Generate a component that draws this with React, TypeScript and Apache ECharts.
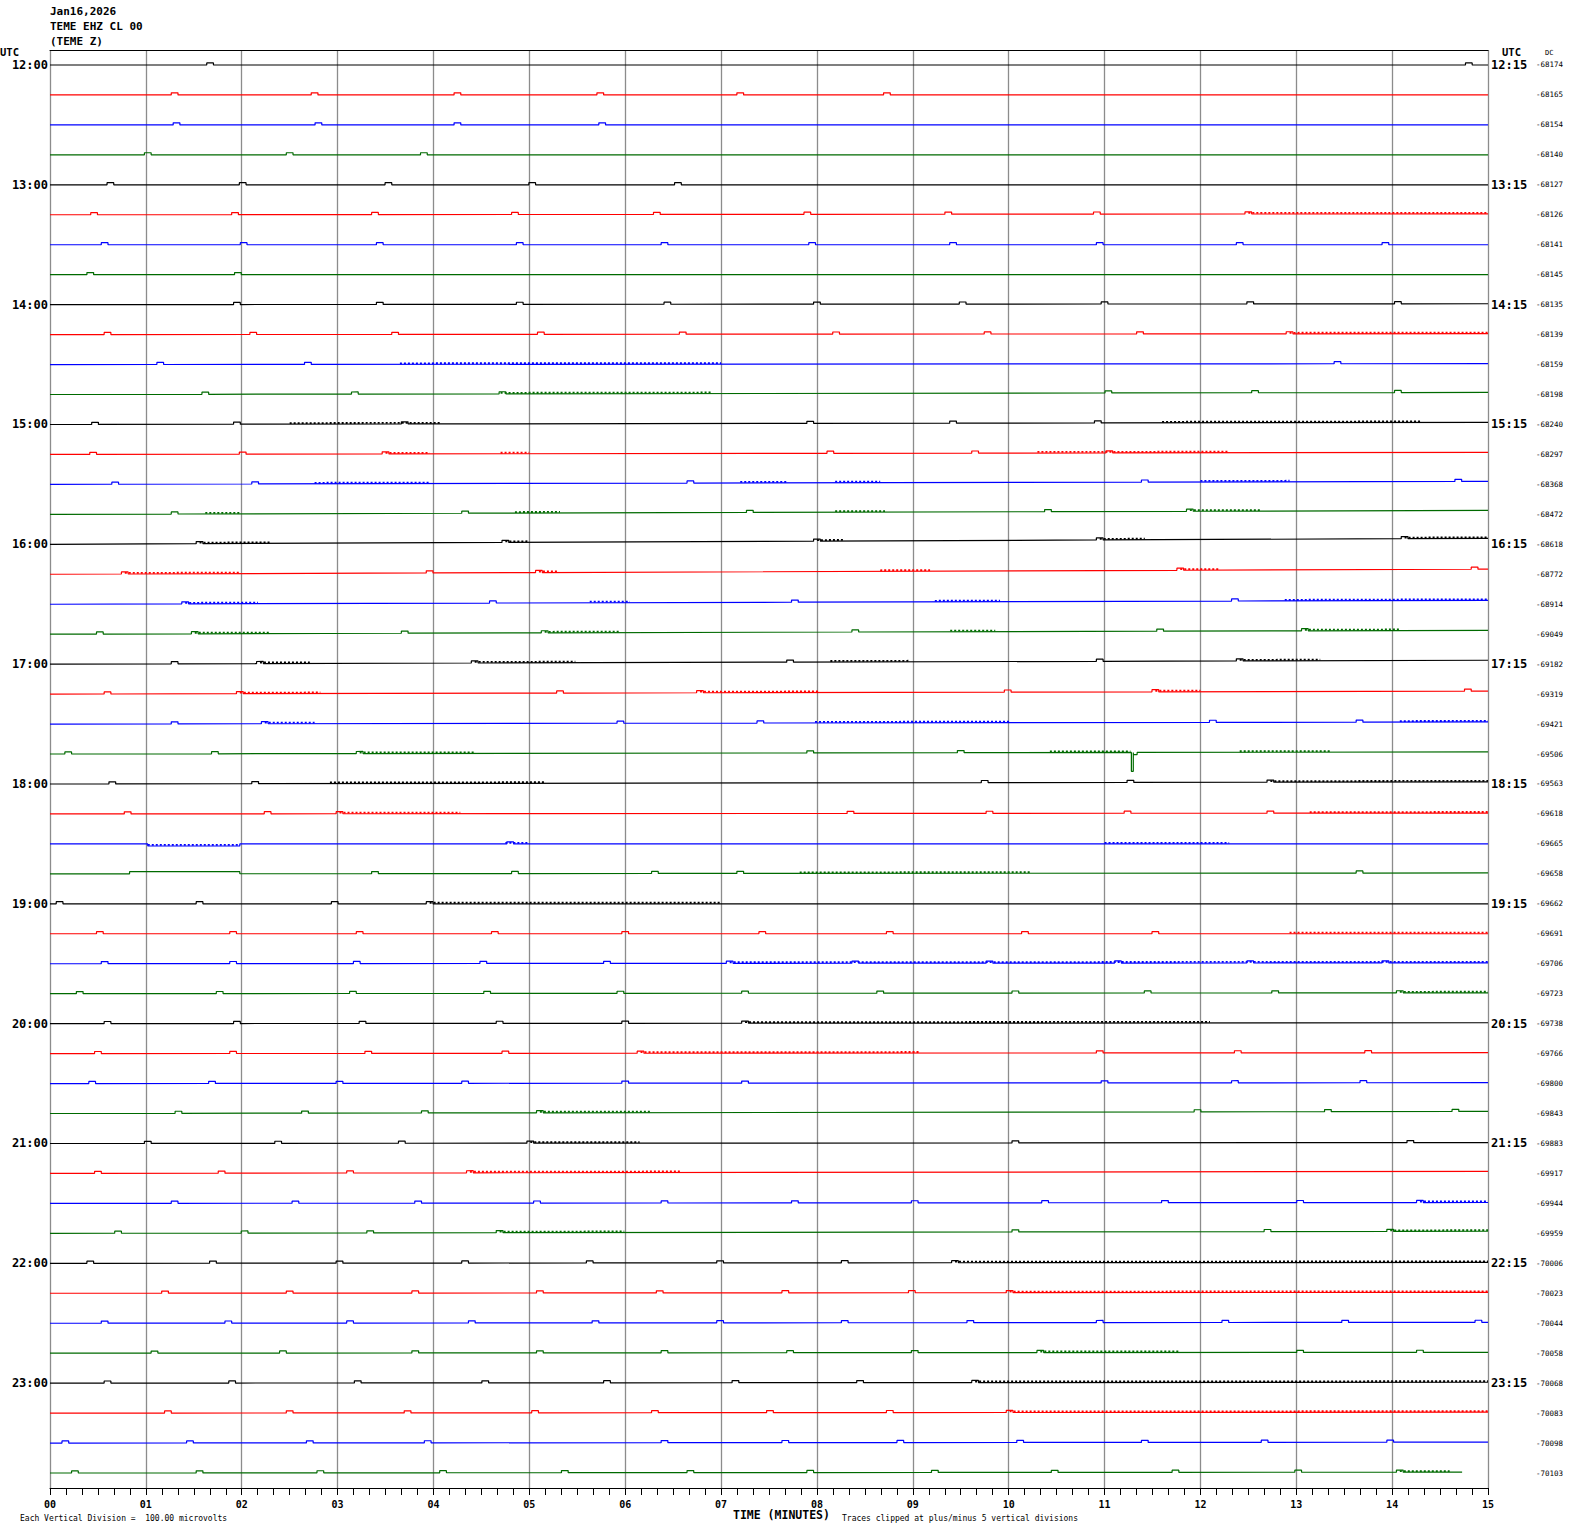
import React, { useEffect, useRef } from "react";
import * as echarts from "echarts";

const headerLines = ["Jan16,2026", "TEME EHZ CL 00", "(TEME Z)"];
const hourLabels = ["12:00", "13:00", "14:00", "15:00", "16:00", "17:00", "18:00", "19:00", "20:00", "21:00", "22:00", "23:00"];
const quarterLabels = ["12:15", "13:15", "14:15", "15:15", "16:15", "17:15", "18:15", "19:15", "20:15", "21:15", "22:15", "23:15"];
const dcValues = [
  -68174, -68165, -68154, -68140, -68127, -68126, -68141, -68145, -68135, -68139, -68159, -68198,
  -68240, -68297, -68368, -68472, -68618, -68772, -68914, -69049, -69182, -69319, -69421, -69506,
  -69563, -69618, -69665, -69658, -69662, -69691, -69706, -69723, -69738, -69766, -69800, -69843,
  -69883, -69917, -69944, -69959, -70006, -70023, -70044, -70058, -70068, -70083, -70098, -70103,
];
const traceColors = ["#000000", "#ff0000", "#0000ff", "#006a00"];

// baseline drift over the 15 minutes, in trace rows (negative = upward)
const driftRows = [
  0, 0, 0, 0, 0, -0.03, 0, 0, -0.03, -0.03, -0.03, -0.07,
  -0.07, -0.07, -0.1, -0.13, -0.2, -0.17, -0.13, -0.13, -0.13, -0.1, -0.07, -0.07,
  -0.07, -0.03, 0, -0.03, 0, 0, -0.03, -0.03, -0.03, -0.03, -0.03, -0.07,
  -0.03, -0.07, -0.03, -0.07, -0.03, -0.03, -0.03, -0.03, -0.03, -0.03, -0.03, -0.03,
];

// small blips (minute positions) on each trace
const blips: number[][] = [
  [1.67, 14.8],
  [1.3, 2.76, 4.25, 5.74, 7.2, 8.73],
  [1.32, 2.8, 4.25, 5.76],
  [1.02, 2.5, 3.9],
  [0.63, 2.01, 3.53, 5.03, 6.55],
  [0.46, 1.93, 3.39, 4.85, 6.33, 7.9, 9.37, 10.92, 12.5],
  [0.57, 2.02, 3.44, 4.9, 6.41, 7.95, 9.42, 10.95, 12.41, 13.93],
  [0.42, 1.96],
  [1.95, 3.44, 4.9, 6.44, 8.0, 9.52, 11.0, 12.52, 14.06],
  [0.6, 2.12, 3.6, 5.12, 6.6, 8.2, 9.78, 11.37, 12.93],
  [1.15, 2.69, 13.43],
  [1.62, 3.18, 4.72, 11.04, 12.57, 14.06],
  [0.47, 1.95, 3.7, 7.93, 9.42, 10.93],
  [0.45, 2.01, 3.5, 8.14, 9.65, 11.05],
  [0.68, 2.14, 6.68, 11.42, 14.69],
  [1.3, 4.33, 7.3, 10.41, 11.89],
  [1.56, 4.75, 8.0, 10.95, 14.13],
  [0.78, 3.96, 5.1, 11.79, 14.86],
  [1.41, 4.62, 7.77, 12.36],
  [0.52, 1.51, 3.7, 5.16, 8.4, 11.58, 13.09],
  [1.3, 2.19, 4.43, 7.72, 10.95, 12.41],
  [0.6, 1.98, 5.32, 6.78, 9.99, 11.53, 14.79],
  [1.3, 2.24, 5.95, 7.41, 12.13, 13.66],
  [0.19, 1.72, 3.23, 7.93, 9.5],
  [0.65, 2.14, 9.75, 11.27, 12.73],
  [0.81, 2.27, 3.02, 8.35, 9.8, 11.24, 12.73],
  [4.8],
  [3.39, 4.85, 6.31, 7.2, 13.66],
  [0.1, 1.56, 2.97, 3.96],
  [0.52, 1.91, 3.23, 4.64, 6.0, 7.43, 8.76, 10.17, 11.53],
  [0.57, 1.91, 3.2, 4.52, 5.81, 7.09, 8.4, 9.8, 11.14, 12.52, 13.93],
  [0.31, 1.77, 3.16, 4.56, 5.95, 7.25, 8.66, 10.07, 11.45, 12.78, 14.08],
  [0.6, 1.95, 3.26, 4.69, 6.0, 7.25],
  [0.5, 1.91, 3.32, 4.75, 6.16, 10.95, 12.39, 13.75],
  [0.44, 1.69, 3.02, 4.33, 6.0, 7.25, 11.0, 12.36, 13.7],
  [1.34, 2.66, 3.91, 5.11, 11.97, 13.33, 14.66],
  [1.02, 2.38, 3.67, 5.01, 10.07, 14.19],
  [0.5, 1.79, 3.13, 4.38],
  [1.3, 2.56, 3.84, 5.08, 6.41, 7.77, 9.02, 10.38, 11.63, 13.04, 14.29],
  [0.71, 2.03, 3.34, 4.69, 10.07, 12.7, 13.98],
  [0.42, 1.7, 3.02, 4.33, 5.63, 6.99, 8.29, 9.44],
  [1.2, 2.5, 3.81, 5.11, 6.36, 7.67, 8.99, 10.01],
  [0.57, 1.86, 3.13, 4.4, 5.69, 6.99, 8.29, 9.6, 10.95, 12.26, 13.51, 14.9],
  [1.09, 2.43, 3.81, 5.11, 6.41, 7.72, 9.02, 10.33, 13.04, 14.29],
  [0.6, 1.9, 3.21, 4.54, 5.81, 7.15, 8.45, 9.65],
  [1.23, 2.5, 3.73, 5.06, 6.31, 7.51, 8.76, 10.01],
  [0.16, 1.46, 2.71, 3.94, 6.41, 7.67, 8.87, 10.12, 11.42, 12.67, 13.98],
  [0.26, 1.56, 2.82, 4.1, 5.37, 6.68, 7.93, 9.23, 10.48, 11.74, 13.02, 14.08],
];

// busy (noisy) stretches on each trace, [from, to] minutes
const busy: number[][][] = [
  [], [], [], [], [],
  [[12.5, 15]],
  [], [], [],
  [[12.93, 15]],
  [[3.65, 7.0]],
  [[4.7, 6.9]],
  [[2.5, 4.07], [11.6, 14.3]],
  [[3.5, 3.96], [4.7, 5.0], [10.3, 12.3]],
  [[2.76, 3.96], [7.2, 7.7], [8.19, 8.66], [12.0, 12.93]],
  [[1.62, 1.98], [4.85, 5.32], [8.19, 8.71], [11.89, 12.62]],
  [[1.56, 2.29], [4.75, 5.0], [8.0, 8.29], [10.95, 11.42], [14.13, 15]],
  [[0.78, 1.98], [5.1, 5.3], [8.66, 9.18], [11.79, 12.2]],
  [[1.41, 2.17], [5.63, 6.05], [9.23, 9.91], [12.88, 15]],
  [[1.51, 2.29], [5.16, 5.95], [9.39, 9.86], [13.09, 14.08]],
  [[2.19, 2.71], [4.43, 5.48], [8.14, 8.97], [12.41, 13.25]],
  [[1.98, 2.82], [6.78, 8.03], [11.53, 12.0]],
  [[2.24, 2.76], [7.98, 10.01], [14.08, 15]],
  [[3.23, 4.43], [10.43, 11.27], [12.41, 13.35]],
  [[2.92, 5.16], [12.73, 15]],
  [[3.02, 4.28], [13.14, 15]],
  [[1.02, 1.98], [4.75, 5.0], [11.0, 12.3]],
  [[7.82, 10.22]],
  [[3.96, 6.99]],
  [[12.93, 15]],
  [[7.09, 15]],
  [[14.08, 15]],
  [[7.25, 12.1]],
  [[6.16, 9.07]],
  [],
  [[5.11, 6.26]],
  [[5.01, 6.15]],
  [[4.38, 6.57]],
  [[14.29, 15]],
  [[4.69, 5.99], [13.98, 15]],
  [[9.44, 15]],
  [[10.01, 15]],
  [],
  [[10.33, 11.79]],
  [[9.65, 15]],
  [[10.01, 15]],
  [],
  [[14.08, 14.6]],
];

// level steps / spikes: trace index, from, to (minutes), shift in rows (positive = downward)
const stepEvents = [
  { trace: 23, from: 11.28, to: 11.3, rows: 0.63 },
  { trace: 23, from: 11.3, to: 11.34, rows: 0.07 },
  { trace: 26, from: 1.02, to: 1.98, rows: 0.07 },
  { trace: 27, from: 0.83, to: 1.98, rows: -0.07 },
];
const lastTraceEnd = 14.73;
const xTickLabels = ["00", "01", "02", "03", "04", "05", "06", "07", "08", "09", "10", "11", "12", "13", "14", "15"];
const footerLeft = "Each Vertical Division =  100.00 microvolts";
const footerRight = "Traces clipped at plus/minus 5 vertical divisions";

const MONO = "'DejaVu Sans Mono', 'Liberation Mono', monospace";
const BLIP_W = 0.07;
const BLIP_H = 0.07;

function buildSeries() {
  const series: any[] = [];
  const n = dcValues.length;
  for (let i = 0; i < n; i++) {
    const color = traceColors[i % 4];
    const end = i === n - 1 ? lastTraceEnd : 15;
    const base = (m: number) => i + (driftRows[i] * m) / 15;
    const steps = stepEvents.filter((s) => s.trace === i);
    const level = (m: number) => {
      let v = base(m);
      steps.forEach((s) => {
        if (m >= s.from && m <= s.to) v += s.rows;
      });
      return v;
    };
    const events: { a: number; b: number; d: number }[] = [];
    blips[i].forEach((m) => events.push({ a: m - BLIP_W / 2, b: m + BLIP_W / 2, d: -BLIP_H }));
    steps.forEach((s) => events.push({ a: s.from, b: s.to, d: s.rows }));
    events.sort((p, q) => p.a - q.a);
    const pts: number[][] = [[0, base(0)]];
    events.forEach((e) => {
      if (e.a >= end) return;
      pts.push([e.a, base(e.a)], [e.a, base(e.a) + e.d], [e.b, base(e.b) + e.d], [e.b, base(e.b)]);
    });
    pts.push([end, base(end)]);
    series.push({
      type: "line",
      xAxisIndex: 0,
      yAxisIndex: 0,
      data: pts,
      symbol: "none",
      silent: true,
      lineStyle: { color, width: 1.2 },
      z: 3,
    });
    busy[i].forEach((seg) => {
      series.push({
        type: "line",
        xAxisIndex: 0,
        yAxisIndex: 0,
        data: [
          [seg[0], level(seg[0]) - 0.035],
          [seg[1], level(seg[1]) - 0.035],
        ],
        symbol: "none",
        silent: true,
        lineStyle: { color, width: 1.8, type: [2, 2] },
        z: 3,
      });
    });
  }
  return series;
}

export default function App() {
  const ref = useRef<HTMLDivElement>(null);
  useEffect(() => {
    if (!ref.current) return;
    const chart = echarts.init(ref.current, undefined, { renderer: "svg" });
    const idx = dcValues.map((_, i) => String(i));
    const catAxisBase = {
      type: "category",
      data: idx,
      inverse: true,
      gridIndex: 0,
      axisLine: { show: false },
      axisTick: { show: false },
      splitLine: { show: false },
    };
    const option: any = {
      animation: false,
      backgroundColor: "#ffffff",
      grid: { left: 50, top: 50, width: 1438, height: 1438, containLabel: false },
      xAxis: [
        {
          type: "value",
          min: 0,
          max: 15,
          interval: 1,
          position: "bottom",
          axisLine: { show: true, onZero: false, lineStyle: { color: "#000", width: 1 } },
          axisTick: { show: true, length: 7, lineStyle: { color: "#000", width: 1 } },
          minorTick: { show: true, splitNumber: 6, length: 7, lineStyle: { color: "#000", width: 1 } },
          splitLine: { show: true, lineStyle: { color: "#8c8c8c", width: 1.3 } },
          axisLabel: {
            margin: 11,
            formatter: (v: number) => xTickLabels[Math.round(v)] ?? "",
            color: "#000",
            fontFamily: MONO,
            fontWeight: "bold",
            fontSize: 10,
          },
        },
        {
          type: "value",
          min: 0,
          max: 15,
          position: "top",
          axisLine: { show: true, onZero: false, lineStyle: { color: "#000", width: 1 } },
          axisTick: { show: false },
          axisLabel: { show: false },
          splitLine: { show: false },
        },
      ],
      yAxis: [
        { type: "value", min: -0.5, max: 47.5, inverse: true, show: false },
        {
          ...catAxisBase,
          position: "left",
          axisLabel: {
            interval: 0,
            margin: 2,
            formatter: (_v: string, i: number) => (i % 4 === 0 ? hourLabels[i / 4] : ""),
            color: "#000",
            fontFamily: MONO,
            fontWeight: "bold",
            fontSize: 12,
            lineHeight: 10,
          },
        },
        {
          ...catAxisBase,
          position: "right",
          axisLabel: {
            interval: 0,
            margin: 3,
            formatter: (_v: string, i: number) => (i % 4 === 0 ? quarterLabels[i / 4] : ""),
            color: "#000",
            fontFamily: MONO,
            fontWeight: "bold",
            fontSize: 12,
            lineHeight: 10,
          },
        },
        {
          ...catAxisBase,
          position: "right",
          offset: 45,
          axisLabel: {
            interval: 0,
            margin: 3,
            formatter: (_v: string, i: number) => String(dcValues[i]),
            color: "#000",
            fontFamily: MONO,
            fontSize: 7.5,
          },
        },
      ],
      series: buildSeries(),
      graphic: [
        ...headerLines.map((t, k) => ({
          type: "text",
          left: 50,
          top: 6 + k * 15,
          style: { text: t, fill: "#000", font: `bold 11px ${MONO}` },
        })),
        { type: "text", left: 0, top: 46, style: { text: "UTC", fill: "#000", font: `bold 10.5px ${MONO}` } },
        { type: "text", left: 1502, top: 46, style: { text: "UTC", fill: "#000", font: `bold 10.5px ${MONO}` } },
        { type: "text", left: 1545, top: 49, style: { text: "DC", fill: "#000", font: `7px ${MONO}` } },
        { type: "text", left: 733, top: 1509, style: { text: "TIME (MINUTES)", fill: "#000", font: `bold 11.5px ${MONO}` } },
        { type: "text", left: 20, top: 1514, style: { text: footerLeft, fill: "#000", font: `8px ${MONO}` } },
        { type: "text", left: 842, top: 1514, style: { text: footerRight, fill: "#000", font: `8px ${MONO}` } },
      ],
    };
    chart.setOption(option);
    return () => chart.dispose();
  }, []);
  return (
    <div
      ref={ref}
      style={{ position: "absolute", left: 0, top: 0, width: 1570, height: 1534, background: "#fff" }}
    />
  );
}
